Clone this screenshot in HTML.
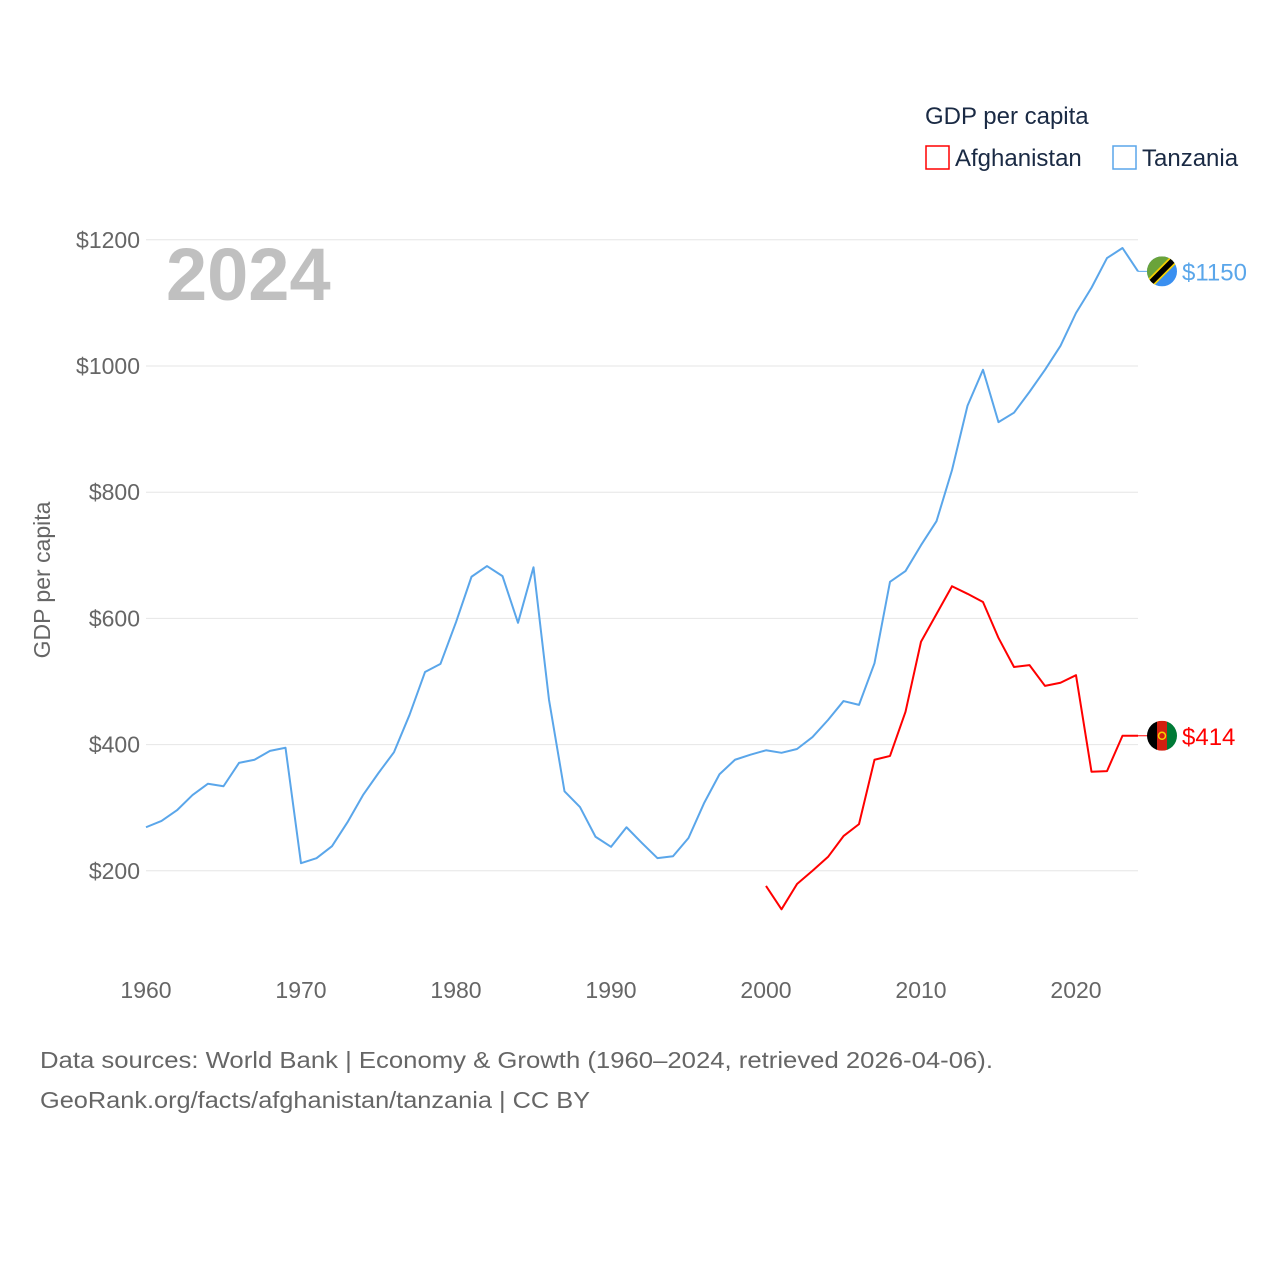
<!DOCTYPE html>
<html><head><meta charset="utf-8"><style>
body{margin:0;background:#fff;font-family:"Liberation Sans",sans-serif}
svg text{font-family:"Liberation Sans",sans-serif}
</style></head><body>
<svg id="chart" width="1280" height="1280" viewBox="0 0 1280 1280">
<g id="grid"></g>
<g id="yt"></g>
<g id="xt"></g>
<text x="166" y="300" font-size="74" font-weight="bold" fill="#c0c0c0">2024</text>
<text transform="translate(50,580) rotate(-90)" text-anchor="middle" font-size="23" fill="#666">GDP per capita</text>
<g>
<text x="925" y="124" font-size="24" fill="#1a2a44">GDP per capita</text>
<g><rect x="926" y="146" width="23" height="23" fill="none" stroke="#f00" stroke-width="1.5"/><text x="955" y="166" font-size="24" fill="#1a2a44">Afghanistan</text></g>
<g><rect x="1113" y="146" width="23" height="23" fill="none" stroke="#5aa6ea" stroke-width="1.5"/><text x="1142" y="166" font-size="24" fill="#1a2a44">Tanzania</text></g>
</g>
<g id="series"></g>
<text x="40" y="1068" font-size="23" fill="#666" textLength="953" lengthAdjust="spacingAndGlyphs">Data sources: World Bank | Economy &amp; Growth (1960–2024, retrieved 2026-04-06).</text>
<text x="40" y="1108" font-size="23" fill="#666" textLength="550" lengthAdjust="spacingAndGlyphs">GeoRank.org/facts/afghanistan/tanzania | CC BY</text>
</svg>
<script>
const tzYears=[1960,1961,1962,1963,1964,1965,1966,1967,1968,1969,1970,1971,1972,1973,1974,1975,1976,1977,1978,1979,1980,1981,1982,1983,1984,1985,1986,1987,1988,1989,1990,1991,1992,1993,1994,1995,1996,1997,1998,1999,2000,2001,2002,2003,2004,2005,2006,2007,2008,2009,2010,2011,2012,2013,2014,2015,2016,2017,2018,2019,2020,2021,2022,2023,2024];
const tzValues=[269,279,296,320,338,334,371,376,390,395,212,220,239,277,320,355,388,447,515,528,594,666,683,667,593,681,471,326,301,254,238,269,244,220,223,252,307,353,376,384,391,387,393,412,439,469,463,529,658,675,716,754,835,937,994,911,926,959,994,1032,1084,1124,1171,1187,1150];
const afYears=[2000,2001,2002,2003,2004,2005,2006,2007,2008,2009,2010,2011,2012,2013,2014,2015,2016,2017,2018,2019,2020,2021,2022,2023,2024];
const afValues=[176,139,179,200,222,255,274,376,382,452,563,607,651,639,626,569,523,526,493,498,510,357,358,414,414];
const yTicks=[200,400,600,800,1000,1200];
const xTicks=[1960,1970,1980,1990,2000,2010,2020];
const NS="http://www.w3.org/2000/svg";
const X=y=>146+(y-1960)*15.5;
const Y=v=>997-v*0.631;
function mk(t,a,p){const e=document.createElementNS(NS,t);for(const k in a)e.setAttribute(k,a[k]);p.appendChild(e);return e;}
const grid=document.getElementById('grid'),yt=document.getElementById('yt'),xt=document.getElementById('xt'),ser=document.getElementById('series');
yTicks.forEach(v=>{
 const l=mk('line',{x1:146,x2:1138,y1:Y(v),y2:Y(v),stroke:'#e6e6e6','stroke-width':1},grid);
 
 
 const t=mk('text',{x:140,y:Y(v)+8,'text-anchor':'end','font-size':23,fill:'#666'},yt);
 t.textContent='$'+v;
 
 
});
xTicks.forEach(y=>{
 const t=mk('text',{x:X(y),y:998,'text-anchor':'middle','font-size':23,fill:'#666'},xt);
 t.textContent=y;
 
 
});
function line(ys,vs,col,name){
 const p=mk('polyline',{points:ys.map((y,i)=>X(y)+','+Y(vs[i])).join(' '),fill:'none',stroke:col,'stroke-width':2,'stroke-linejoin':'round'},ser);
 
 
}
line(tzYears,tzValues,'#5aa6ea','tanzania-line');
line(afYears,afValues,'#f00','afghanistan-line');
function endLabel(v,col,name,flag){
 const y=Y(v),x0=X(2024);
 const c=mk('line',{x1:x0,x2:1150,y1:y,y2:y,stroke:col,'stroke-width':1},ser);
 
 
 const g=mk('g',{},ser);
 
 
 g.innerHTML=flag(1162,y);
 const t=mk('text',{x:1182,y:y+9,'font-size':24,fill:col},ser);
 t.textContent='$'+v;
 
 
}
endLabel(tzValues[tzValues.length-1],'#5aa6ea','tanzania',(x,y)=>`<defs><clipPath id="ct"><circle cx="${x}" cy="${y}" r="15"/></clipPath></defs><g clip-path="url(#ct)"><rect x="${x-15}" y="${y-15}" width="30" height="30" fill="#3a8ff0"/><polygon points="${x-15},${y-15} ${x+15},${y-15} ${x-15},${y+15}" fill="#6aa33a"/><line x1="${x-17}" y1="${y+17}" x2="${x+17}" y2="${y-17}" stroke="#f5d000" stroke-width="9"/><line x1="${x-17}" y1="${y+17}" x2="${x+17}" y2="${y-17}" stroke="#000" stroke-width="5.5"/></g>`);
endLabel(afValues[afValues.length-1],'#f00','afghanistan',(x,y)=>`<defs><clipPath id="ca"><circle cx="${x}" cy="${y}" r="15"/></clipPath></defs><g clip-path="url(#ca)"><rect x="${x-15}" y="${y-15}" width="10" height="30" fill="#000"/><rect x="${x-5}" y="${y-15}" width="10" height="30" fill="#d32011"/><rect x="${x+5}" y="${y-15}" width="10" height="30" fill="#007a36"/><circle cx="${x}" cy="${y}" r="3.5" fill="none" stroke="#f5d000" stroke-width="1.5"/></g>`);
</script>
</body></html>
